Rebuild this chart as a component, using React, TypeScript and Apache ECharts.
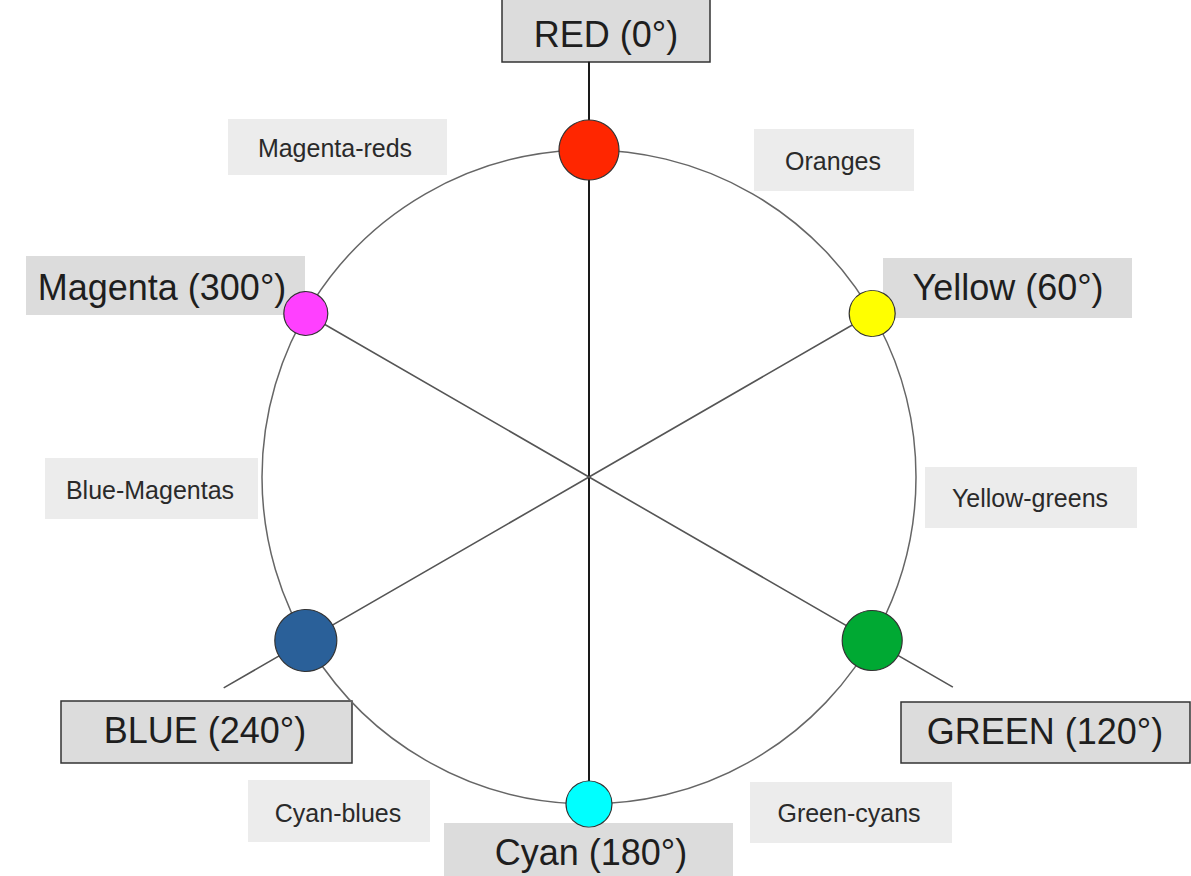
import React, { useEffect, useRef } from "react";
import * as echarts from "echarts";

// ---- data ----
const hueAngles = [0, 60, 120, 180, 240, 300];
const hueColors = ["#ff2600", "#ffff00", "#00a933", "#00ffff", "#2a6099", "#ff40ff"];
const dotSizes = [60, 46, 60, 46, 62, 44];
const majorLabels = ["RED (0°)", "Yellow (60°)", "GREEN (120°)", "Cyan (180°)", "BLUE (240°)", "Magenta (300°)"];
const minorLabels = ["Oranges", "Yellow-greens", "Green-cyans", "Cyan-blues", "Blue-Magentas", "Magenta-reds"];
// diameters: [radius, angle] triples (start, centre, end)
const diameterRed = [[1.27, 0], [0, 0], [1, 180]];
const diameterYellow = [[1, 60], [0, 0], [1.29, 240]];
const diameterMagenta = [[1, 300], [0, 0], [1.285, 120]];

// ---- layout (positions of annotation boxes) ----
const majorBoxes = [
  { x: 502, y: -4, w: 208, h: 66, tx: 606, ty: 34, border: true },
  { x: 883, y: 258, w: 249, h: 60, tx: 1008, ty: 287, border: false },
  { x: 901, y: 702, w: 289, h: 61, tx: 1045, ty: 731, border: true },
  { x: 444, y: 823, w: 289, h: 60, tx: 591, ty: 852, border: false },
  { x: 61, y: 701, w: 291, h: 62, tx: 205, ty: 730, border: true },
  { x: 26, y: 256, w: 279, h: 59, tx: 162, ty: 287, border: false },
];
const minorBoxes = [
  { x: 754, y: 129, w: 160, h: 62, tx: 833, ty: 161 },
  { x: 925, y: 467, w: 212, h: 61, tx: 1030, ty: 498 },
  { x: 750, y: 782, w: 202, h: 61, tx: 849, ty: 813 },
  { x: 248, y: 780, w: 182, h: 62, tx: 338, ty: 813 },
  { x: 45, y: 458, w: 213, h: 61, tx: 150, ty: 490 },
  { x: 228, y: 119, w: 219, h: 56, tx: 335, ty: 148 },
];

const CENTER = [589, 477];
const R = 327;
const EXT = 1.3;
const FONT = "'Liberation Sans', Arial, sans-serif";

export default function App() {
  const ref = useRef<HTMLDivElement>(null);
  useEffect(() => {
    if (!ref.current) return;
    const chart = echarts.init(ref.current, undefined, { renderer: "svg" });

    const hidden = { show: false };
    const graphics: any[] = [];
    minorLabels.forEach((t, i) => {
      const b = minorBoxes[i];
      graphics.push({
        type: "rect", z: 0,
        shape: { x: b.x, y: b.y, width: b.w, height: b.h },
        style: { fill: "#ececec" },
      });
      graphics.push({
        type: "text", z: 1, x: b.tx, y: b.ty,
        style: { text: t, fill: "#2a2a2a", font: `25px ${FONT}`, align: "center", verticalAlign: "middle" },
      });
    });
    majorLabels.forEach((t, i) => {
      const b = majorBoxes[i];
      graphics.push({
        type: "rect", z: 0,
        shape: { x: b.x, y: b.y, width: b.w, height: b.h },
        style: b.border ? { fill: "#dcdcdc", stroke: "#333", lineWidth: 1.5 } : { fill: "#dcdcdc" },
      });
      graphics.push({
        type: "text", z: 1, x: b.tx, y: b.ty,
        style: { text: t, fill: "#1e1e1e", font: `36px ${FONT}`, align: "center", verticalAlign: "middle" },
      });
    });

    const option: any = {
      animation: false,
      backgroundColor: "#ffffff",
      polar: [
        { center: CENTER, radius: R },
        { center: CENTER, radius: R * EXT },
      ],
      angleAxis: [
        {
          polarIndex: 0, type: "value", min: 0, max: 360, startAngle: 90, clockwise: true,
          axisLine: { show: true, lineStyle: { color: "#666", width: 1.5 } },
          axisTick: hidden, axisLabel: hidden, splitLine: hidden, splitArea: hidden,
        },
        {
          polarIndex: 1, type: "value", min: 0, max: 360, startAngle: 90, clockwise: true,
          axisLine: hidden, axisTick: hidden, axisLabel: hidden, splitLine: hidden, splitArea: hidden,
        },
      ],
      radiusAxis: [
        { polarIndex: 0, type: "value", min: 0, max: 1, axisLine: hidden, axisTick: hidden, axisLabel: hidden, splitLine: hidden, splitArea: hidden },
        { polarIndex: 1, type: "value", min: 0, max: EXT, axisLine: hidden, axisTick: hidden, axisLabel: hidden, splitLine: hidden, splitArea: hidden },
      ],
      series: [
        {
          type: "line", coordinateSystem: "polar", polarIndex: 1, symbol: "none", z: 3,
          data: diameterRed, lineStyle: { color: "#1a1a1a", width: 2 },
        },
        {
          type: "line", coordinateSystem: "polar", polarIndex: 1, symbol: "none", z: 3,
          data: diameterYellow, lineStyle: { color: "#555", width: 1.6 },
        },
        {
          type: "line", coordinateSystem: "polar", polarIndex: 1, symbol: "none", z: 3,
          data: diameterMagenta, lineStyle: { color: "#555", width: 1.6 },
        },
        {
          type: "scatter", coordinateSystem: "polar", polarIndex: 1, z: 6,
          data: hueAngles.map((a, i) => ({
            value: [1, a],
            symbolSize: dotSizes[i],
            itemStyle: { color: hueColors[i], opacity: 1, borderColor: "#333", borderWidth: 1.2 },
          })),
        },
      ],
      graphic: graphics,
    };
    chart.setOption(option);
    return () => chart.dispose();
  }, []);
  return <div ref={ref} style={{ position: "absolute", left: 0, top: 0, width: 1191, height: 876 }} />;
}
